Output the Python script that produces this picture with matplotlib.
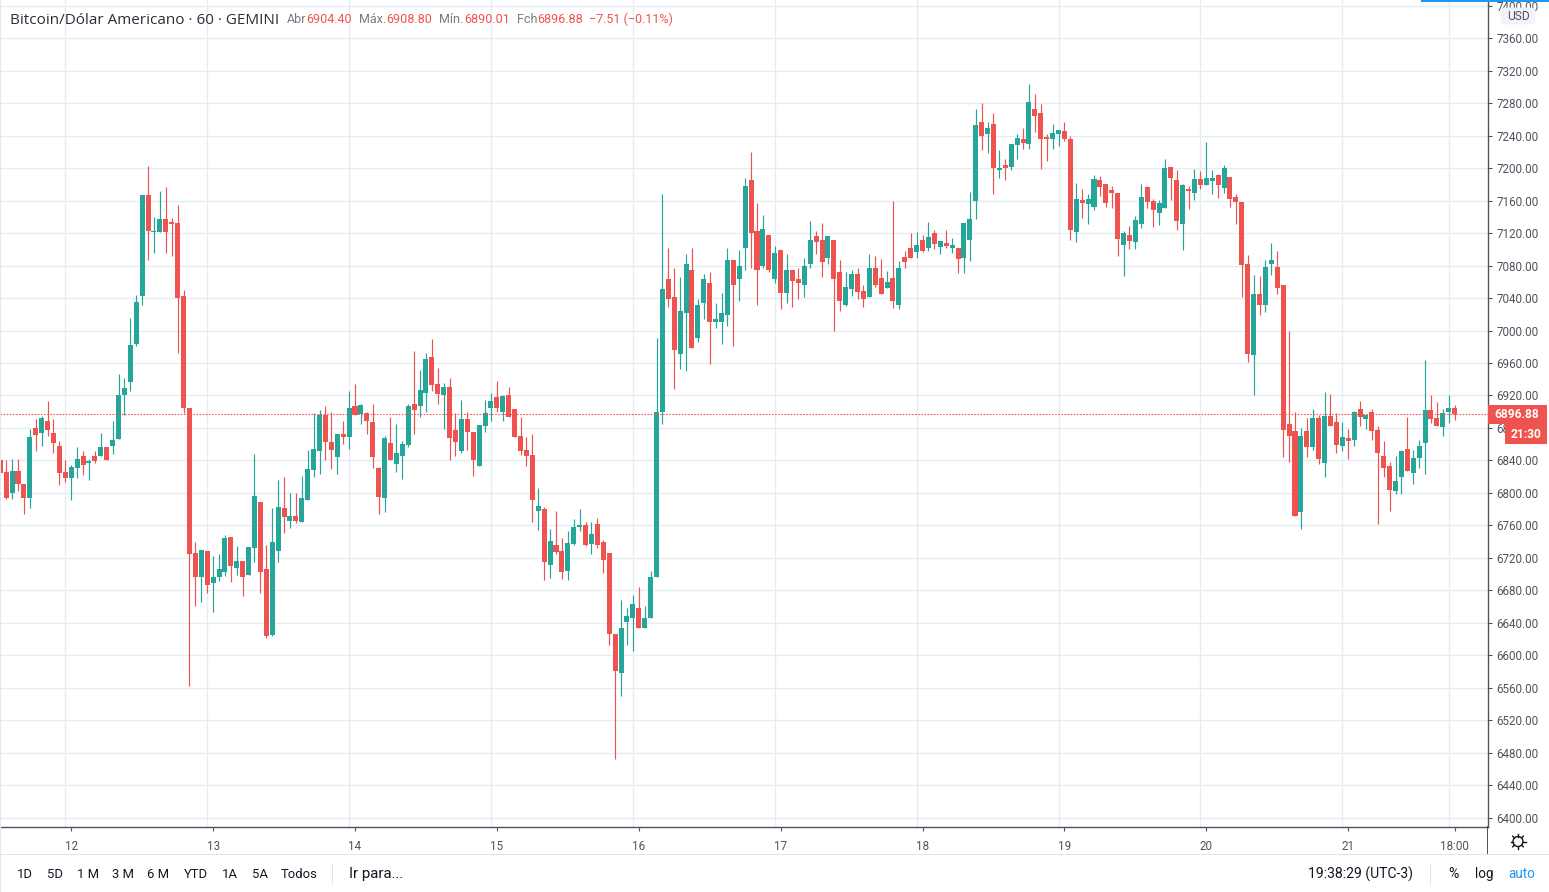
import matplotlib
matplotlib.use("Agg")
import matplotlib.pyplot as plt
from matplotlib.lines import Line2D
from matplotlib.patches import Rectangle, FancyBboxPatch, Circle
from matplotlib.transforms import IdentityTransform
import numpy as np

plt.rcParams['font.family'] = ['Roboto', 'DejaVu Sans']

opens = [6841,6826,6800,6827.5,6811.6,6794,6880,6874,6889,6874,
6858,6826,6819,6831,6846,6837.5,6845,6845,6857,6858,
6867,6920,6936,6984,7043,7167,7121.5,7121.5,7137.4,7134,
7132.7,7043,6904.8,6726.5,6697,6728,6688.6,6696,6703,6746,
6708,6716.6,6698.5,6732,6789,6707,6625.5,6728,6781,6766,
6772,6764.4,6791.6,6828.7,6852,6896.6,6863.3,6844.8,6873.2,6869.5,
6906.5,6897.5,6898,6886.8,6831,6794,6862,6836,6846,6859.6,
6910,6906.5,6922.6,6967,6933.7,6920,6931,6877,6852,6890.5,
6875.6,6833.6,6883,6904,6917.6,6900.3,6920,6902.8,6870.7,6853.4,
6847.2,6778,6780.5,6711.3,6736,6728.6,6704,6737.3,6758.3,6760.7,
6736.7,6762.4,6740,6725.8,6627,6578,6641.7,6646.6,6659,6633.3,
6646.6,6696,6899.3,7064,7040.8,6970.6,7022,7075,6991.3,7033.4,
7059,7011,7010,7019.5,7087.3,7064,7101,7185.7,7121.9,7079,
7117,7063,7098.6,7045.7,7074,7063,7056.6,7081.3,7116,7112,
7089.7,7112,7072.4,7032,7051.6,7070,7049,7041.8,7077.4,7065,
7052.7,7065,7031,7091,7102,7097,7111.8,7102,7120.4,7103,
7108,7102,7102,7089.6,7111.8,7159.8,7257,7242.3,7254.6,7198,
7204,7201.6,7228.7,7236,7230,7273,7268,7238.6,7236,7242.3,
7246,7236,7121.6,7161,7156,7152.4,7185.6,7180.7,7173.3,7169.6,
7105.6,7118,7109.3,7131.5,7177,7159.8,7145,7151.2,7201.6,7185.6,
7131.5,7174.6,7169.6,7186.9,7179.5,7184.4,7191.8,7175.8,7189.3,7164.7,
7158.6,7082.2,6970.2,7045.3,7031.8,7082.2,7078.6,7056.4,6885.3,6876.7,
6777,6876.7,6857,6892.7,6837.3,6895.2,6887.8,6858.2,6868,6865.6,
6903.8,6891.5,6900,6878,6846,6833.6,6802.8,6820,6854.5,6825,
6843.4,6862,6902.5,6892.7,6881.6,6900,6904.4]

closes = [6825,6794,6827.5,6811.6,6794,6869.4,6871,6892.7,6878,6862,
6825,6819,6832,6842,6835,6839.5,6839,6857,6841,6865.5,
6921,6929.4,6982.5,7035.6,7167,7123,7123,7137.4,7121.5,7131.4,
7040.3,6904.8,6725,6696,6730.4,6687,6697,6706,6744,6710.6,
6716.6,6696,6734,6796,6703,6624,6740,6783,6771,6772,
6766,6794,6830,6854.6,6896.6,6863.3,6853.4,6872,6869.5,6904,
6896.6,6907.8,6889,6844.8,6795.3,6868,6841,6849.7,6860.8,6906.5,
6901.6,6926.3,6964.6,6932.5,6921.3,6931,6868,6863.3,6890.5,6875.6,
6840,6884.3,6899,6912.7,6904,6919,6893,6869.5,6852,6846,
6791.6,6784,6715,6741,6727.4,6702.7,6738.5,6758.3,6760.7,6736,
6750,6735.7,6717,6626,6580.4,6633.3,6648,6663,6633.3,6645.7,
6696,6900.3,7051.6,7039.3,6976.5,7023.5,7081.3,6979,7032,7064,
7011,7013.6,7021,7087.3,7056.6,7079,7177.3,7119.4,7075,7125.3,
7074,7096,7046.7,7075,7060.6,7058,7079,7111,7109.5,7083.8,
7116,7064,7035.8,7054,7070,7048,7039.3,7076.4,7055.6,7045.3,
7060,7036,7077.3,7084.7,7089.6,7105.6,7098.2,7115.5,7106.9,7110.5,
7104.4,7105.6,7088.4,7132.7,7137.6,7253.3,7239.8,7249.6,7200.4,7200.4,
7200.4,7230,7237.3,7231,7281.6,7264.4,7236,7236,7243.5,7247,
7236,7124,7162.2,7157.3,7162.2,7186.9,7177,7157.3,7169.6,7113,
7120.4,7110.5,7136.4,7164.7,7158.6,7148.7,7157.3,7200.4,7188,7135,
7179.5,7172,7186.9,7179.5,7188,7188,7179.5,7200.4,7162.2,7158.6,
7081,6971.5,7045.3,7031.8,7078.6,7087.2,7052.7,6878,6870.5,6772,
6870.5,6857,6892.7,6842,6895.2,6882.8,6859.4,6869.3,6864.4,6900,
6894,6896.4,6876.7,6849.6,6831,6804,6815,6852,6827.5,6843.4,
6858.2,6902.5,6891.5,6882.8,6899,6905,6896.88]

highs = [6843,6840,6842,6842,6811.6,6879.3,6890.6,6894.4,6913.4,6891.4,
6864,6840,6835,6857,6852,6842,6852,6874,6857,6888,
6947,6942,7016,7044,7167,7202.6,7140,7172,7177,7138.7,
7154.7,7050,6904.8,6740,6730.4,6729,6722,6725,6748,6746,
6735,6716.6,6734,6847.4,6789,6736.5,6781,6816,6820,6800,
6800,6821,6853.4,6898.7,6901.6,6906.5,6900.3,6872,6889,6925,
6933.7,6910,6900.3,6910,6832.4,6870.7,6894,6885.5,6864.5,6910,
6974.5,6951,6972,6989.3,6953.5,6935,6941,6898,6914,6900.3,
6875.6,6884.3,6914,6922.6,6937.4,6920,6931,6902.8,6893,6869.5,
6873,6806.5,6783,6756,6778,6744.7,6753.3,6768,6780.5,6764,
6764,6768.8,6742.6,6725.8,6627,6668,6659,6674,6683.7,6660.5,
6704.5,6990.3,7167.4,7102,7076.4,7065.5,7094.7,7101,7039.3,7070,
7071.4,7033.4,7046.7,7102,7087.3,7098.6,7188,7220.3,7157.5,7141.6,
7117,7104.6,7098.6,7094.7,7074,7077.4,7088.7,7135.2,7122,7132.7,
7116,7112,7087.3,7072.4,7074,7077.4,7055.6,7093.7,7092.2,7088.4,
7073.6,7159.8,7086,7098,7120.4,7121.6,7118,7134,7124,7110.5,
7124,7114.2,7102,7132.7,7170.9,7273,7280.4,7257,7268,7222.6,
7211.5,7230,7242.3,7249.6,7303.8,7291.5,7279,7242.3,7254.6,7247,
7257,7239.8,7182,7174.6,7168.4,7191.8,7190.6,7180.7,7178.2,7169.6,
7122.9,7129,7141.3,7180.7,7178.2,7162.2,7161,7211.5,7201.6,7198,
7180.7,7178.2,7199,7196.7,7232.4,7198,7193,7204,7189.3,7168.4,
7158.6,7093.3,7068.7,7067.5,7087.2,7108,7098.2,7056.4,7000,6900,
6880.4,6892.7,6903.8,6896.4,6924.7,6922.2,6898.8,6887.8,6879.2,6901.3,
6913.6,6896.4,6903.8,6882.8,6864.4,6838.5,6846,6853.3,6894,6853.3,
6865.6,6964,6921,6912.4,6903.8,6921,6908.8]

lows = [6823,6793,6793,6802,6774,6782,6852,6858,6870.7,6849.5,
6810,6814,6791,6819,6822,6816,6837,6845,6840,6848,
6867,6896,6925,6981,7032,7087,7095.6,7121.5,7095.6,7092,
6972.5,6898.7,6562,6661,6666,6677,6654,6692,6698,6690,
6699,6673,6698.5,6715,6677,6621,6624,6715,6751,6757,
6763.6,6764.4,6791.6,6820,6823.7,6841,6830,6823.7,6860.8,6854.6,
6895.4,6885.5,6872,6831,6774,6777,6841,6826,6817.6,6857,
6873,6894,6900,6925,6909,6879.3,6841,6846,6849.7,6853.4,
6821,6833.6,6875.6,6888,6900.3,6888,6893,6869.5,6847,6833.6,
6764.4,6754.6,6693,6695,6725,6694,6693,6736,6753.3,6735,
6724.3,6731.7,6701,6612.5,6472,6550.7,6612.5,6606,6633.3,6633.3,
6646.6,6696,6885.5,7028.4,6928.5,6952.3,6949.8,6979,6986.4,7013.6,
6958.2,7002.7,6984,7005.2,6981.4,7035.8,7074,7076.4,7031,7077.4,
7071.4,7058,7026,7034.3,7028.4,7038.3,7040.8,7077.4,7093.7,7065.5,
7081.3,7000,7024.5,7030.4,7043,7038.3,7029.4,7041.8,7054,7045.3,
7052.7,7028,7027,7077.3,7089.6,7089.6,7097,7098.2,7100.7,7094.5,
7102,7095.8,7071,7071,7086,7137.6,7222.6,7218.9,7168.4,7188,
7185.6,7198,7211.5,7223.8,7223.8,7244.7,7199.2,7209,7223.8,7227.5,
7233.6,7111.8,7109.3,7138.9,7131.5,7148.7,7166,7152.4,7151.2,7092,
7067.5,7100.7,7100.7,7126.5,7151.2,7127.8,7130.2,7151.2,7161,7124,
7099.5,7150,7161,7174.6,7179.5,7168.4,7163.5,7169.6,7152.4,7131.5,
7041.6,6961.6,6921,7019.5,7023,7068.7,7045.3,6844.7,6838.5,6772,
6756,6844.7,6853.3,6836,6820,6882.8,6849.6,6852,6842,6858.2,
6882.8,6879.2,6865.6,6762.2,6820,6778.2,6799,6799,6827.5,6811.4,
6831,6823.8,6886.5,6882.8,6870.5,6886.5,6890.01]

tick_index = [12, 36, 60, 84, 108, 132, 156, 180, 204, 228, 246]
tick_labels = ['12', '13', '14', '15', '16', '17', '18', '19', '20', '21', '18:00']
price_ticks = list(range(6400, 7401, 40))
last_price = 6896.88

UP = '#26a69a'
DOWN = '#ef5350'
GRID = '#e3edf3'
AXIS = '#50535e'
TEXT = '#50535e'
DARK = '#131722'

W, H = 1549, 892
fig = plt.figure(figsize=(W / 100, H / 100), dpi=100, facecolor='white')


def px_text(x, y, s, size=12, color=DARK, ha='left', **kw):
    fig.text(x / W, 1 - y / H, s, fontsize=size * 0.72, color=color, ha=ha, va='center', zorder=6, **kw)


def px_rect(x0, y0, x1, y1, color, z=3):
    fig.add_artist(Rectangle((x0, H - y1), x1 - x0, y1 - y0, facecolor=color, edgecolor='none',
                             transform=IdentityTransform(), zorder=z))


ax = fig.add_axes([0, 1 - 826.5 / H, 1487.5 / W, 826.5 / H])
ax.set_xlim(-0.0457, 251.56)
ax.set_ylim(6389.5, 7406.8)

idx = np.arange(len(opens))
o = np.array(opens)
c = np.array(closes)
hi = np.array(highs)
lo = np.array(lows)
up = c >= o
cols = np.where(up, UP, DOWN)

ax.set_axisbelow(True)
ax.set_yticks(price_ticks)
ax.grid(axis='y', color=GRID, linewidth=1.0)
for t in tick_index:
    ax.axvline(t - 1, color=GRID, linewidth=1.0, zorder=0.5)

ax.vlines(idx, lo, hi, colors=cols, linewidth=0.85, zorder=2)
ax.bar(idx, np.abs(c - o), bottom=np.minimum(o, c), width=0.85, color=cols, linewidth=0, zorder=3)
ax.axhline(last_price, color=DOWN, linewidth=0.8, dashes=(1.4, 1.4), zorder=4)

for s in ('top', 'left'):
    ax.spines[s].set_visible(False)
for s in ('bottom', 'right'):
    ax.spines[s].set_color(AXIS)
    ax.spines[s].set_linewidth(1.0)
ax.yaxis.tick_right()
ax.set_yticklabels([f'{p:.2f}' for p in price_ticks])
ax.tick_params(axis='y', length=3, width=0.8, color=AXIS, labelcolor=TEXT, labelsize=8.4, pad=3.2)
ax.set_xticks(tick_index)
ax.set_xticklabels(tick_labels)
ax.tick_params(axis='x', length=3, width=0.8, color=AXIS, labelcolor=TEXT, labelsize=8.4, pad=7)

# legend line
fig.text(10 / W, 1 - 20 / H, 'Bitcoin/Dólar Americano · 60 · GEMINI', fontsize=15.2 * 0.72, color='#2a2e39',
         ha='left', va='center', zorder=6, family=['Open Sans', 'DejaVu Sans'])
for x, s, col in [(287, 'Abr', '#787b86'), (306.5, '6904.40', DOWN), (359, 'Máx.', '#787b86'),
                  (386, '6908.80', DOWN), (439, 'Mín.', '#787b86'), (464, '6890.01', DOWN),
                  (517, 'Fch', '#787b86'), (537, '6896.88', DOWN), (589, '−7.51 (−0.11%)', DOWN)]:
    px_text(x, 19.5, s, size=12.5, color=col)

# price flags
px_rect(1487.5, 405, 1547, 424, DOWN)
px_text(1517, 414.5, '6896.88', size=12, color='white', ha='center', fontweight='bold')
px_rect(1505, 424, 1547, 444, DOWN)
px_text(1526, 434.5, '21:30', size=12, color='white', ha='center', fontweight='bold')

# USD badge
fig.add_artist(FancyBboxPatch((1502, H - 23), 32, 14, boxstyle='round,pad=0,rounding_size=3',
                              facecolor='#f0f3fa', edgecolor='#f0f3fa', linewidth=2,
                              transform=IdentityTransform(), zorder=3))
px_text(1518, 16.5, 'USD', size=12, color=TEXT, ha='center')
px_rect(1421, 0, 1549, 1.5, '#2196f3')

# frame lines
px_rect(0, 0, 1, 892, '#e4e7ee', z=2)
px_rect(0, 854, W, 855, '#e0e3eb')
px_rect(1487, 826, 1488, 854, AXIS)

# gear
gx, gy = 1518, H - 841.5
fig.add_artist(Circle((gx, gy), 5, facecolor='white', edgecolor=DARK, linewidth=1.0,
                      transform=IdentityTransform(), zorder=4))
for a in np.deg2rad(np.arange(0, 360, 45)):
    fig.add_artist(Line2D([gx + 5 * np.cos(a), gx + 7.5 * np.cos(a)], [gy + 5 * np.sin(a), gy + 7.5 * np.sin(a)],
                          color=DARK, linewidth=1.0, transform=IdentityTransform(), zorder=4))

# toolbar
for x, s in [(25, '1D'), (55, '5D'), (88, '1 M'), (123, '3 M'), (158, '6 M'), (196, 'YTD'),
             (230, '1A'), (260, '5A'), (299, 'Todos')]:
    px_text(x, 874, s, size=13, color=DARK, ha='center')
px_rect(332, 863, 333, 885, '#e0e3eb')
px_text(349, 874, 'Ir para...', size=15, color=DARK)
px_text(1308, 874, '19:38:29 (UTC-3)', size=14, color=DARK)
px_rect(1430, 863, 1431, 885, '#e0e3eb')
px_text(1453, 874, '%', size=14, color=DARK, ha='center')
px_text(1484, 874, 'log', size=13.5, color=DARK, ha='center')
px_text(1522, 874, 'auto', size=13.5, color='#2196f3', ha='center')

fig.savefig('out.png', dpi=100, facecolor='white')
